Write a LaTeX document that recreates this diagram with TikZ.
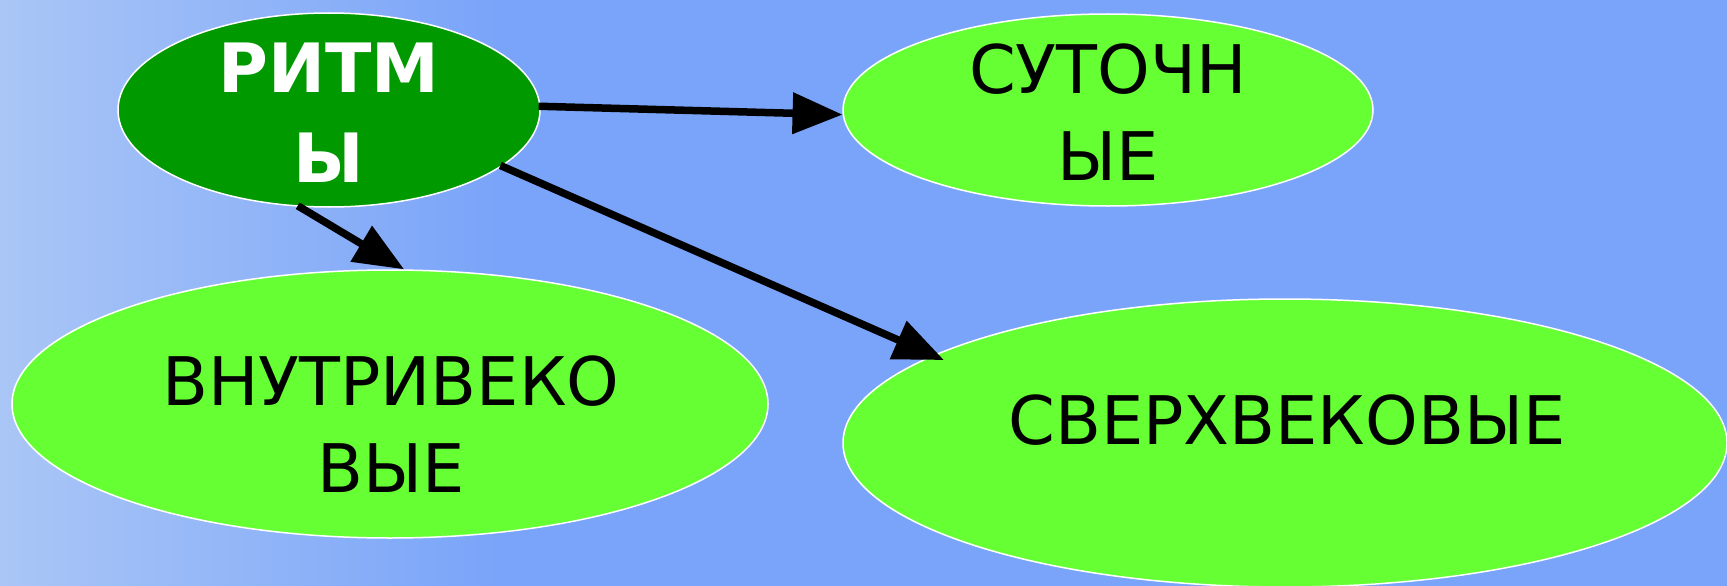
\documentclass[tikz,border=0pt]{standalone}
\usepackage{fontspec}
\setmainfont{DejaVu Sans}
\usetikzlibrary{arrows.meta,shapes.geometric}
\definecolor{bgblue}{RGB}{122,164,249}
\definecolor{bglight}{RGB}{170,198,246}
\definecolor{darkgr}{RGB}{0,153,0}
\definecolor{lightgr}{RGB}{102,255,51}
\tikzset{
  oval/.style={ellipse, draw=white, line width=1.5pt, inner sep=0pt},
  lbl/.style={anchor=base, align=center, inner sep=0pt, font=\fontsize{67}{87}\selectfont},
  conn/.style={line width=7.5pt, -{Triangle[length=50pt,width=40pt]}, shorten <=-2pt}
}
\begin{document}
\begin{tikzpicture}[x=1pt,y=-1pt]
\useasboundingbox (0,0) rectangle (1727,586);
\fill[bgblue] (0,0) rectangle (1727,586);
\shade[left color=bglight, right color=bgblue] (0,0) rectangle (500,586);
\node[oval, fill=darkgr, minimum width=422pt, minimum height=194pt] (ritm) at (329,110) {};
\node[oval, fill=lightgr, minimum width=530pt, minimum height=192pt] (sut) at (1108,110) {};
\node[oval, fill=lightgr, minimum width=756pt, minimum height=268pt] (vnut) at (390,404) {};
\node[oval, fill=lightgr, minimum width=884pt, minimum height=288pt] (sver) at (1285,443) {};
\node[lbl, text=white, font=\fontsize{68}{90}\selectfont\bfseries] (tritm) at (329,182) {РИТМ\\Ы};
\node[lbl] (tsut) at (1108,180) {СУТОЧН\\ЫЕ};
\node[lbl] (tvnut) at (391,492) {ВНУТРИВЕКО\\ВЫЕ};
\node[lbl] (tsver) at (1287,444) {СВЕРХВЕКОВЫЕ};
\draw[conn] (ritm.1) -- (sut.181.5);
\draw[conn] (ritm.253) -- (vnut.84);
\draw[conn, shorten >=-12pt] (ritm.342) -- (sver.166);
\end{tikzpicture}
\end{document}
